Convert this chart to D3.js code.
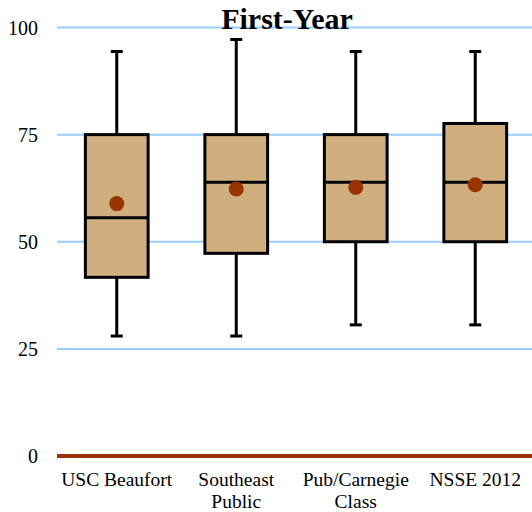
<!DOCTYPE html>
<html><head><meta charset="utf-8">
<script src="https://cdn.jsdelivr.net/npm/d3@7"></script>
<style>body{margin:0;background:#fff}svg{display:block}</style>
</head><body>
<svg id="chart" width="532" height="512"></svg>
<script>
const title = "First-Year";
const categories = [["USC Beaufort"], ["Southeast", "Public"], ["Pub/Carnegie", "Class"], ["NSSE 2012"]];
const whiskerLow  = [28, 28, 30.6, 30.6];
const q1          = [41.7, 47.3, 50, 50];
const median      = [55.6, 63.9, 63.9, 63.9];
const q3          = [75, 75, 75, 77.6];
const whiskerHigh = [94.4, 97.2, 94.4, 94.4];
const mean        = [58.9, 62.3, 62.7, 63.3];
const yTicks = [0, 25, 50, 75, 100];

const svg = d3.select("#chart");
const font = "'Liberation Serif','Times New Roman',serif";
const x = d3.scaleBand().domain(d3.range(categories.length)).range([57, 535]).paddingInner(0).paddingOuter(0);
const y = d3.scaleLinear().domain([0, 100]).range([456, 27.5]);
const boxW = x.bandwidth() * 0.525;
const capW = 12;

// gridlines
svg.append("g").selectAll("line").data(yTicks.filter(d => d > 0)).join("line")
  .attr("x1", 57).attr("x2", 532).attr("y1", d => y(d)).attr("y2", d => y(d))
  .attr("stroke", "#99CCFF").attr("stroke-width", 2);

// y tick labels
svg.append("g").selectAll("text").data(yTicks).join("text")
  .attr("x", 38).attr("y", d => y(d)).attr("dy", "0.36em")
  .attr("text-anchor", "end").attr("font-family", font).attr("font-size", 20)
  .attr("fill", "#000").text(d => d);

// baseline axis
svg.append("line").attr("x1", 57).attr("x2", 532).attr("y1", y(0)).attr("y2", y(0))
  .attr("stroke", "#993300").attr("stroke-width", 4);

const data = categories.map((c, i) => ({i, lo: whiskerLow[i], q1: q1[i], med: median[i], q3: q3[i], hi: whiskerHigh[i], mean: mean[i]}));
const g = svg.append("g").selectAll("g").data(data).join("g")
  .attr("transform", d => `translate(${x(d.i) + x.bandwidth() / 2},0)`);

g.append("line").attr("x1", 0).attr("x2", 0).attr("y1", d => y(d.q3)).attr("y2", d => y(d.hi)).attr("stroke", "#000").attr("stroke-width", 3);
g.append("line").attr("x1", 0).attr("x2", 0).attr("y1", d => y(d.q1)).attr("y2", d => y(d.lo)).attr("stroke", "#000").attr("stroke-width", 3);
g.append("line").attr("x1", -capW / 2).attr("x2", capW / 2).attr("y1", d => y(d.hi)).attr("y2", d => y(d.hi)).attr("stroke", "#000").attr("stroke-width", 3);
g.append("line").attr("x1", -capW / 2).attr("x2", capW / 2).attr("y1", d => y(d.lo)).attr("y2", d => y(d.lo)).attr("stroke", "#000").attr("stroke-width", 3);
g.append("rect").attr("x", -boxW / 2).attr("width", boxW)
  .attr("y", d => y(d.q3)).attr("height", d => y(d.q1) - y(d.q3))
  .attr("fill", "#CFAF7D").attr("stroke", "#000").attr("stroke-width", 3);
g.append("line").attr("x1", -boxW / 2).attr("x2", boxW / 2).attr("y1", d => y(d.med)).attr("y2", d => y(d.med)).attr("stroke", "#000").attr("stroke-width", 3);
g.append("circle").attr("cx", 0).attr("cy", d => y(d.mean)).attr("r", 7.5).attr("fill", "#993300");

// category labels
const lab = svg.append("g").selectAll("text").data(categories).join("text")
  .attr("x", (d, i) => x(i) + x.bandwidth() / 2).attr("y", 486)
  .attr("text-anchor", "middle").attr("font-family", font).attr("font-size", 19.5).attr("fill", "#000");
lab.selectAll("tspan").data(d => d).join("tspan")
  .attr("x", function() { return this.parentNode.getAttribute("x"); })
  .attr("dy", (d, j) => j === 0 ? 0 : 22).text(d => d);

// title
svg.append("text").attr("x", 287).attr("y", 29).attr("text-anchor", "middle")
  .attr("font-family", font).attr("font-weight", "bold").attr("font-size", 30).attr("fill", "#000").text(title);
</script>
</body></html>
